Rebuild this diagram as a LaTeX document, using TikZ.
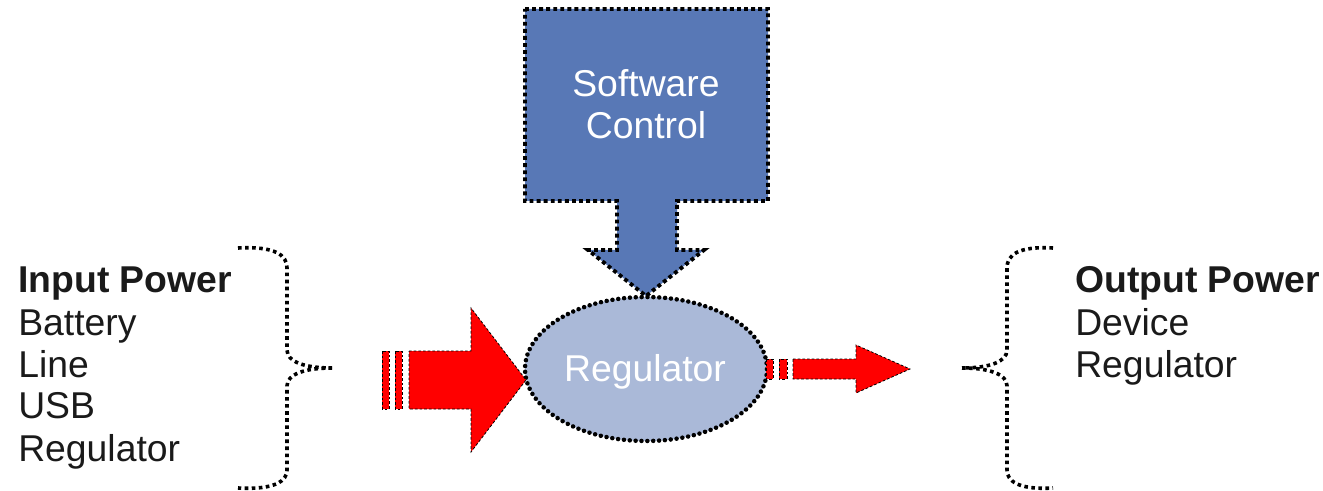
\documentclass[tikz,border=0pt]{standalone}
\usepackage{fontspec}
\usetikzlibrary{shapes.geometric}
\setmainfont{Liberation Sans}
\definecolor{boxblue}{HTML}{5878B6}
\definecolor{ellblue}{HTML}{AAB9D8}
\definecolor{txt}{HTML}{1A1A1A}
\tikzset{
  sqdots/.style={line width=2.9pt, dash pattern=on 2.9pt off 2.4pt},
  rddots/.style={line width=3.4pt, line cap=round, dash pattern=on 0pt off 4.4pt},
  bracedots/.style={line width=2.7pt, dash pattern=on 2.7pt off 2.6pt},
  redarrow/.style={fill=red, draw=black, line width=0.6pt, dash pattern=on 2pt off 1.5pt},
  lbl/.style={anchor=base west, inner sep=0pt, text=txt, font=\fontsize{28}{31.5}\selectfont},
  wlbl/.style={inner sep=0pt, text=white, font=\fontsize{28}{31.5}\selectfont}
}
\begin{document}
\begin{tikzpicture}[x=0.75pt,y=-0.75pt]
\useasboundingbox (0,0) rectangle (1323,491);
% software control box with down arrow
\draw[fill=boxblue, sqdots] (525,9) -- (768,9) -- (768,201) -- (677,201) -- (677,250) -- (704,250)
  -- (646,296) -- (588,250) -- (617,250) -- (617,201) -- (525,201) -- cycle;
\node[wlbl, anchor=base] (sw1) at (646,97) {Software};
\node[wlbl, anchor=base] (sw2) at (646,139) {Control};
% regulator ellipse
\node[ellipse, inner sep=0pt, outer sep=0pt, minimum width=181.5pt, minimum height=108pt,
  fill=ellblue, draw=black, rddots] (reg) at (646,369) {};
\node[wlbl, anchor=base] (regt) at (645,381) {Regulator};
% left input arrow
\draw[redarrow] (382,351) rectangle (389,409);
\draw[redarrow] (395,351) rectangle (402,409);
\draw[redarrow] (409,351) -- (471,351) -- (471,308) -- (526,380) -- (471,452) -- (471,409) -- (409,409) -- cycle;
% right output arrow
\draw[redarrow] (766,359) rectangle (773,379);
\draw[redarrow] (779,359) rectangle (787,379);
\draw[redarrow] (793,359) -- (856,359) -- (856,345) -- (910,369) -- (856,393) -- (856,379) -- (793,379) -- cycle;
% left brace
\coordinate (lb1) at (238,248);
\coordinate (lbm) at (332,368);
\coordinate (lb2) at (238,488);
\draw[bracedots] (lb1) .. controls (275,246) and (287,255) .. (287,268) -- (287,350)
  .. controls (287,362) and (305,368) .. (lbm);
\draw[bracedots] (lbm) .. controls (305,368) and (287,374) .. (287,386) -- (287,470)
  .. controls (287,481) and (275,490) .. (lb2);
% right brace
\coordinate (rb1) at (1053,248);
\coordinate (rbm) at (962,368);
\coordinate (rb2) at (1053,488);
\draw[bracedots] (rb1) .. controls (1018,246) and (1007,255) .. (1007,268) -- (1007,350)
  .. controls (1007,362) and (989,368) .. (rbm);
\draw[bracedots] (rbm) .. controls (989,368) and (1007,374) .. (1007,386) -- (1007,470)
  .. controls (1007,481) and (1018,490) .. (rb2);
% left labels
\node[lbl] (in0) at (18,293) {\textbf{Input Power}};
\node[lbl] (in1) at (18,335) {Battery};
\node[lbl] (in2) at (18,377) {Line};
\node[lbl] (in3) at (18,418) {USB};
\node[lbl] (in4) at (18,461) {Regulator};
% right labels
\node[lbl] (out0) at (1075,293) {\textbf{Output Power}};
\node[lbl] (out1) at (1075,335) {Device};
\node[lbl] (out2) at (1075,377) {Regulator};
\end{tikzpicture}
\end{document}
